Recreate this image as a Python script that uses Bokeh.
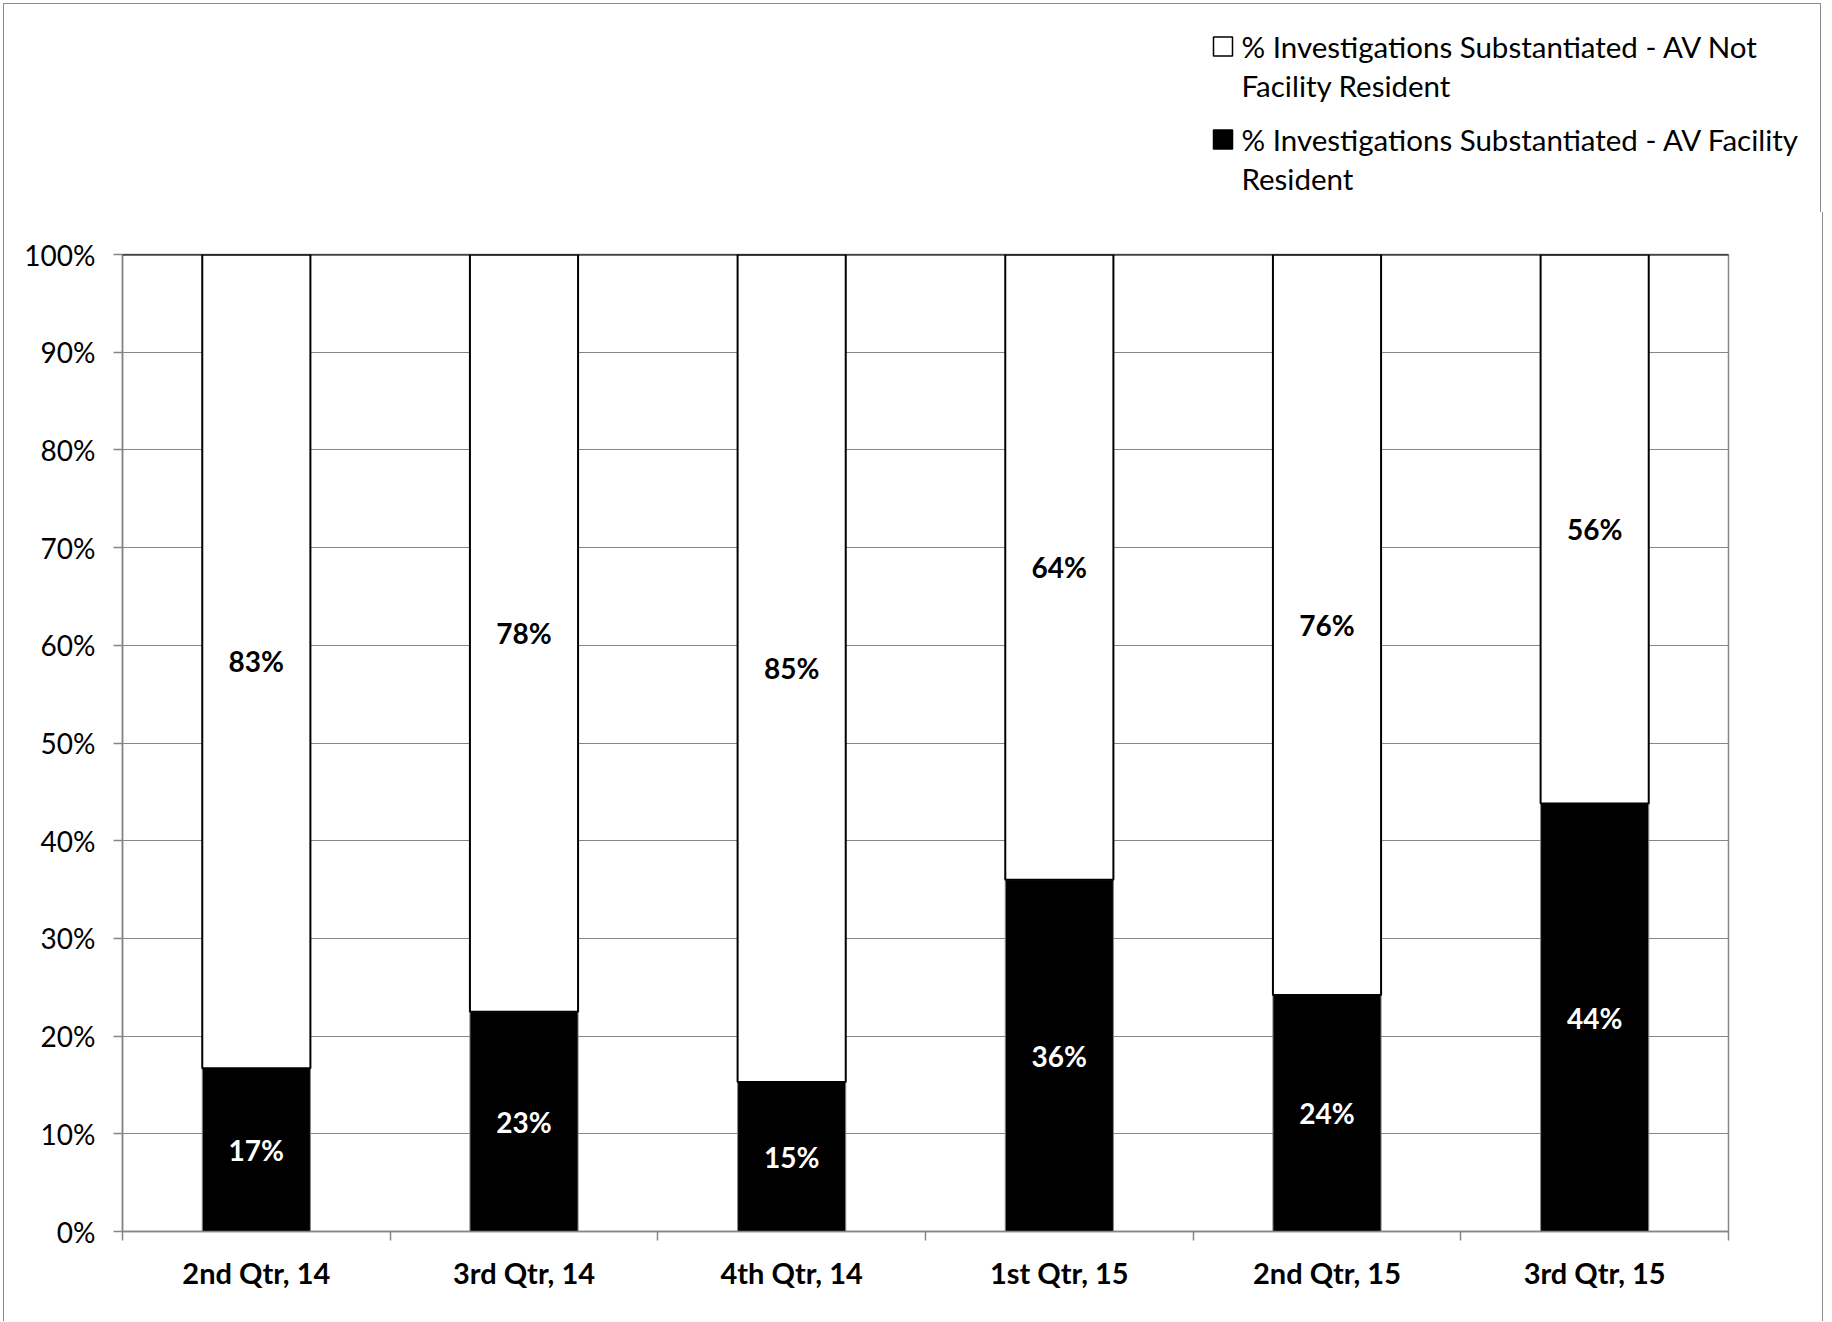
import math
from bokeh.plotting import figure
from bokeh.models import ColumnDataSource, LabelSet, FixedTicker, Span
from bokeh.core.properties import value
from bokeh.embed import file_html
from bokeh.resources import INLINE

categories = ["2nd Qtr, 14", "3rd Qtr, 14", "4th Qtr, 14", "1st Qtr, 15", "2nd Qtr, 15", "3rd Qtr, 15"]
resident = [16.7, 22.5, 15.3, 36.0, 24.2, 43.8]          # % AV Facility Resident (black)
not_resident = [83.3, 77.5, 84.7, 64.0, 75.8, 56.2]      # % AV Not Facility Resident (white)
y_ticks = [0, 10, 20, 30, 40, 50, 60, 70, 80, 90, 100]
legend_labels = [
    ["% Investigations Substantiated - AV Not", "Facility Resident"],
    ["% Investigations Substantiated - AV Facility", "Resident"],
]
legend_fills = ["white", "black"]

GRID = "#868686"
BORDER = "1px solid #8c8c8c"
FONT = "Lato"
TOTAL_W = 1818
LEG_H = 209
MT = 42             # main plot top border
ML = 118            # main plot left border
FW, FH = 1606, 977  # main frame size

xs = [i + 0.5 for i in range(len(categories))]


def pct(v):
    return f"{math.floor(v + 0.5)}%"


# ---------------- legend strip (top) ----------------
leg = figure(width=TOTAL_W, height=LEG_H, x_range=(0, TOTAL_W), y_range=(LEG_H, 0),
             output_backend="svg", toolbar_location=None,
             x_axis_location=None, y_axis_location=None,
             min_border=0, min_border_left=0, min_border_right=0,
             min_border_top=0, min_border_bottom=0)
leg.grid.visible = False
leg.outline_line_color = None
leg.background_fill_color = "white"
leg.border_fill_color = "white"
leg.styles = {"border-left": BORDER, "border-right": BORDER, "border-top": BORDER,
              "margin-left": "3px", "margin-top": "3px"}

sq_x = 1218.5
tx_x = 1237
line_y = [[42, 80.5], [135, 174]]
leg.scatter(x=[sq_x] * len(legend_fills), y=[ly[0] for ly in line_y], marker="square", size=19,
            fill_color=legend_fills, line_color="black", line_width=1.5)
txt_x, txt_y, txt = [], [], []
for lines, ys in zip(legend_labels, line_y):
    for t, yy in zip(lines, ys):
        txt_x.append(tx_x)
        txt_y.append(yy)
        txt.append(t)
leg.text(x=txt_x, y=txt_y, text=txt, text_font=value(FONT), text_font_size="29.5px",
         text_baseline="middle", text_align="left", text_color="black")

# ---------------- main chart ----------------
src = ColumnDataSource(dict(
    x=xs, cat=categories, res=resident, notres=not_resident,
    res_mid=[r / 2 for r in resident],
    notres_mid=[r + n / 2 for r, n in zip(resident, not_resident)],
    res_lbl=[pct(v) for v in resident],
    notres_lbl=[pct(v) for v in not_resident],
))

p = figure(frame_width=FW, frame_height=FH, x_range=(0, len(categories)), y_range=(0, 100),
           output_backend="svg", toolbar_location=None,
           min_border_left=ML, min_border_right=TOTAL_W - ML - FW,
           min_border_top=MT, min_border_bottom=90)
p.styles = {"border-left": BORDER, "border-right": BORDER, "margin-left": "3px"}
p.outline_line_color = GRID
p.outline_line_width = 1.5
p.background_fill_color = "white"
p.border_fill_color = "white"

p.vbar_stack(["res", "notres"], x="x", width=0.404, source=src,
             fill_color=["black", "white"], line_color=[GRID, "black"],
             line_width=[1, 2])

p.add_layout(Span(location=100, dimension="width", line_color="black", line_width=2))

# grid
p.xgrid.grid_line_color = None
p.ygrid.grid_line_color = GRID
p.ygrid.grid_line_width = 1.2
p.ygrid.ticker = FixedTicker(ticks=y_ticks)

# y axis
p.yaxis.ticker = FixedTicker(ticks=y_ticks)
p.yaxis.major_label_overrides = {t: f"{t}%" for t in y_ticks}
p.yaxis.axis_line_color = GRID
p.yaxis.axis_line_width = 1.5
p.yaxis.major_tick_line_color = GRID
p.yaxis.major_tick_line_width = 1.5
p.yaxis.major_tick_in = 0
p.yaxis.major_tick_out = 9
p.yaxis.minor_tick_line_color = None
p.yaxis.major_label_standoff = 18
p.yaxis.major_label_text_font = FONT
p.yaxis.major_label_text_font_size = "28px"
p.yaxis.major_label_text_color = "black"

# x axis: labels at centers, tick marks at category boundaries
p.xaxis.ticker = FixedTicker(ticks=xs, minor_ticks=list(range(len(categories) + 1)))
p.xaxis.major_label_overrides = {x: c for x, c in zip(xs, categories)}
p.xaxis.axis_line_color = GRID
p.xaxis.axis_line_width = 1.5
p.xaxis.major_tick_line_color = None
p.xaxis.major_tick_in = 0
p.xaxis.major_tick_out = 0
p.xaxis.minor_tick_line_color = GRID
p.xaxis.minor_tick_line_width = 1.5
p.xaxis.minor_tick_in = 0
p.xaxis.minor_tick_out = 9
p.xaxis.major_label_standoff = 14
p.xaxis.major_label_text_font = FONT
p.xaxis.major_label_text_font_style = "bold"
p.xaxis.major_label_text_font_size = "29px"
p.xaxis.major_label_text_color = "black"

# data labels
p.add_layout(LabelSet(x="x", y="res_mid", text="res_lbl", source=src, text_align="center",
                      text_baseline="middle", text_color="white", text_font=value(FONT),
                      text_font_style=value("bold"), text_font_size=value("28px")))
p.add_layout(LabelSet(x="x", y="notres_mid", text="notres_lbl", source=src, text_align="center",
                      text_baseline="middle", text_color="black", text_font=value(FONT),
                      text_font_style=value("bold"), text_font_size=value("28px")))

open("out.html", "w").write(file_html([leg, p], INLINE))
